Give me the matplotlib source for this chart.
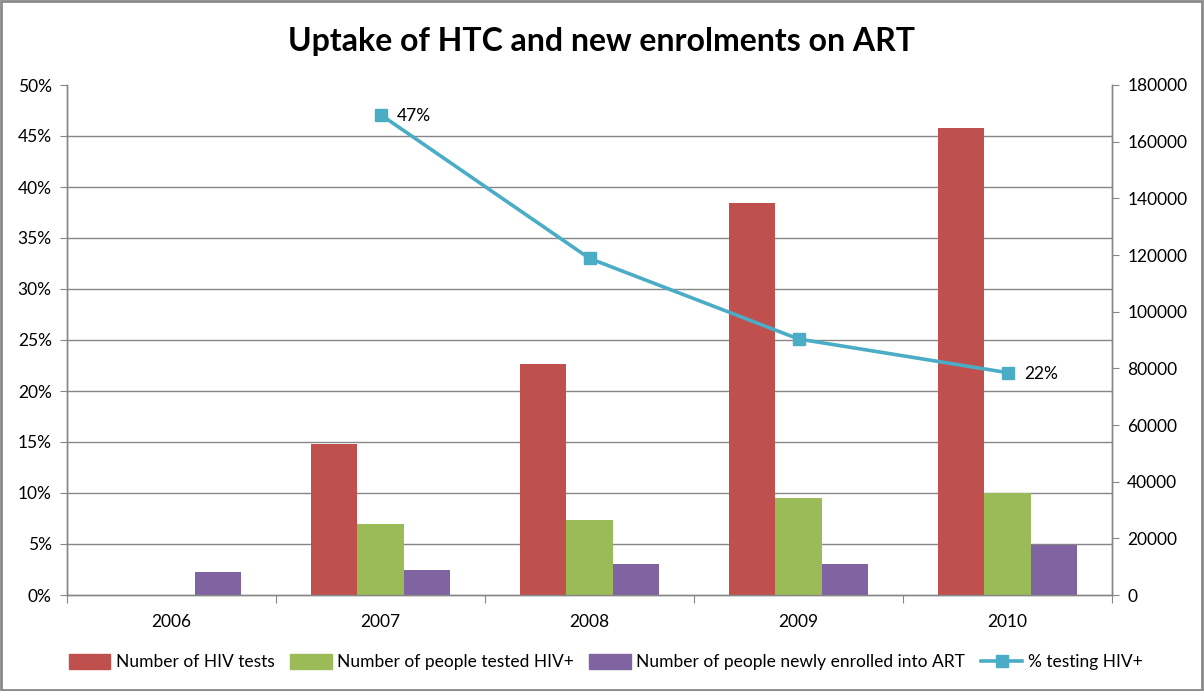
import matplotlib
matplotlib.use('Agg')
import matplotlib.pyplot as plt
import numpy as np
from matplotlib.patches import Rectangle, Patch
from matplotlib.lines import Line2D
from matplotlib.ticker import FuncFormatter, MultipleLocator, FixedLocator

plt.rcParams['font.family'] = ['Lato', 'DejaVu Sans']

years = ['2006', '2007', '2008', '2009', '2010']
hiv_tests = [0, 53200, 81700, 138400, 164800]
tested_pos = [0, 25000, 26500, 34300, 35900]
enrolled_art = [8000, 8900, 11100, 11100, 17700]
pct_pos = [np.nan, 0.471, 0.330, 0.251, 0.218]

series_names = ['Number of HIV tests', 'Number of people tested HIV+',
                'Number of people newly enrolled into ART', '% testing HIV+']
bar_colors = ['#C0504D', '#9BBB59', '#8064A2']
line_color = '#4BACC6'
axis_gray = '#868686'

W, H = 1204, 691
fig = plt.figure(figsize=(W / 100, H / 100), dpi=100)
fig.patch.set_facecolor('white')

left, right, top, bottom = 67, 1112, 85, 595
ax_pct = fig.add_axes([left / W, 1 - bottom / H, (right - left) / W, (bottom - top) / H])
ax_bar = ax_pct.twinx()
ax_bar.set_zorder(1)
ax_pct.set_zorder(2)
ax_pct.patch.set_visible(False)

x = np.arange(len(years))
bw = 0.222
for k, (vals, col) in enumerate(zip([hiv_tests, tested_pos, enrolled_art], bar_colors)):
    ax_bar.bar(x + (k - 1) * bw, vals, width=bw, color=col, zorder=3)

ax_bar.set_ylim(0, 180000)
ax_bar.yaxis.set_major_locator(MultipleLocator(20000))
ax_bar.yaxis.set_minor_locator(MultipleLocator(18000))
ax_bar.grid(which='minor', axis='y', color=axis_gray, lw=1.0, zorder=0)
ax_bar.tick_params(axis='y', which='minor', length=0)
ax_bar.tick_params(axis='y', which='major', length=5, color=axis_gray, labelsize=12.5, pad=6)
ax_bar.set_axisbelow(True)

ax_pct.plot(x, pct_pos, color=line_color, lw=2.6, marker='s', markersize=8,
            markerfacecolor=line_color, markeredgecolor=line_color,
            solid_joinstyle='round', solid_capstyle='round', zorder=5)
ax_pct.set_ylim(0, 0.5)
ax_pct.yaxis.set_major_locator(MultipleLocator(0.05))
ax_pct.yaxis.set_major_formatter(FuncFormatter(lambda v, p: f'{v * 100:.0f}%'))
ax_pct.tick_params(axis='y', length=5, color=axis_gray, labelsize=12.5, pad=6)

first = 1
last = len(years) - 1
for i in (first, last):
    ax_pct.annotate(f'{pct_pos[i] * 100:.0f}%', (x[i], pct_pos[i]), xytext=(12, -1),
                    textcoords='offset points', va='center', ha='left', fontsize=12.5, zorder=7)

ax_pct.set_xlim(-0.5, len(years) - 0.5)
ax_pct.xaxis.set_major_locator(FixedLocator(np.arange(len(years) + 1) - 0.5))
ax_pct.xaxis.set_major_formatter(FuncFormatter(lambda v, p: ''))
ax_pct.set_xticks(x, years, minor=True)
ax_pct.tick_params(axis='x', which='major', length=6, color=axis_gray)
ax_pct.tick_params(axis='x', which='minor', length=0, labelsize=12.5, pad=14)

for a in (ax_pct, ax_bar):
    a.spines['top'].set_visible(False)
    for s in ('left', 'right', 'bottom'):
        a.spines[s].set_color(axis_gray)
        a.spines[s].set_linewidth(1.0)

fig.text(0.5, 1 - 42 / H, 'Uptake of HTC and new enrolments on ART', ha='center', va='center',
         fontsize=23, fontweight='bold')

handles = [Patch(color=c) for c in bar_colors] + [
    Line2D([0], [0], color=line_color, lw=2.6, marker='s', markersize=8)]
fig.legend(handles, series_names, loc='center', bbox_to_anchor=(0.503, 1 - 662 / H), ncol=4,
           frameon=False, fontsize=12.5, handlelength=2.4, handleheight=1.0,
           columnspacing=0.9, handletextpad=0.3)

fig.patches.append(Rectangle((0.001, 0.001), 0.997, 0.997, transform=fig.transFigure,
                             fill=False, edgecolor='#8a8a8a', lw=2))

fig.savefig('out.png', dpi=100)
